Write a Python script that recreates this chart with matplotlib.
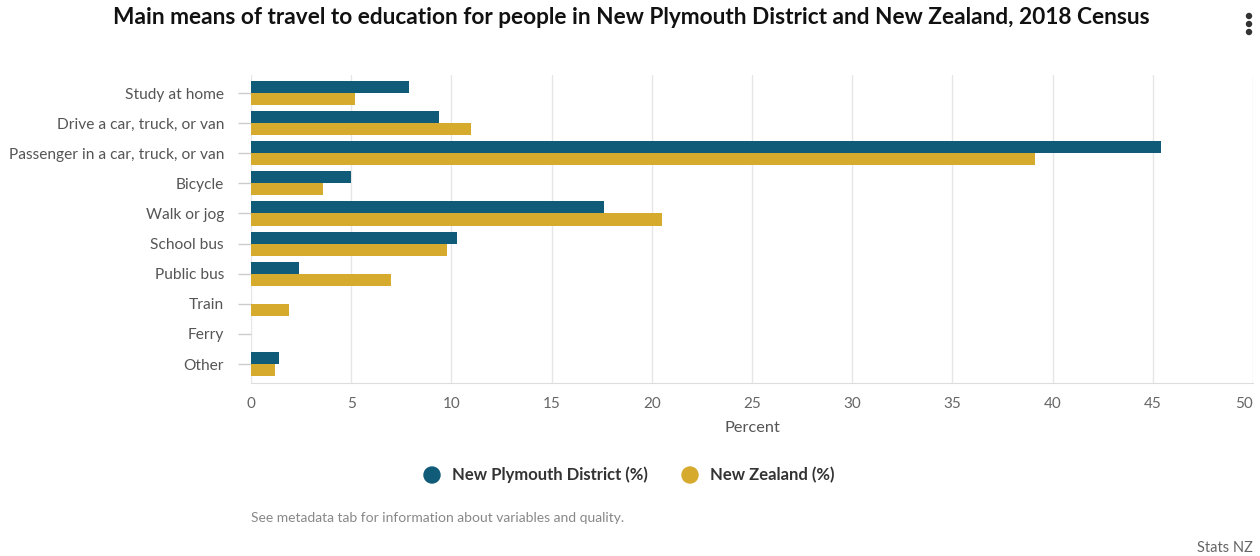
import matplotlib.pyplot as plt
from matplotlib.patches import Ellipse
import numpy as np

plt.rcParams['font.family'] = ['Lato', 'DejaVu Sans']

categories = ["Study at home", "Drive a car, truck, or van",
              "Passenger in a car, truck, or van", "Bicycle", "Walk or jog",
              "School bus", "Public bus", "Train", "Ferry", "Other"]
new_plymouth = [7.9, 9.4, 45.4, 5.0, 17.6, 10.3, 2.4, 0.0, 0.0, 1.4]
new_zealand = [5.2, 11.0, 39.1, 3.6, 20.5, 9.8, 7.0, 1.9, 0.0, 1.2]
x_ticks = list(range(0, 55, 5))

teal = "#0f5b78"
gold = "#d5aa2d"

W, H = 1260, 556
fig = plt.figure(figsize=(W / 100, H / 100), dpi=100)
ax = fig.add_axes([251 / W, 1 - 383 / H, (1253 - 251) / W, (383 - 75) / H])

y = np.arange(len(categories))
h = 0.4
ax.barh(y - h / 2, new_plymouth, height=h, color=teal, zorder=3)
ax.barh(y + h / 2, new_zealand, height=h, color=gold, zorder=3)

ax.set_xlim(0, 50)
ax.set_ylim(9.63, -0.6)
ax.set_xticks(x_ticks)
ax.set_xticklabels([str(t) for t in x_ticks], color="#666666", fontsize=11)
ax.get_xticklabels()[-1].set_ha('right')
ax.set_yticks(y)
ax.set_yticklabels(categories, color="#555555", fontsize=11.2)
ax.tick_params(axis='y', length=9.5, color="#cccccc", width=1, pad=10)
ax.tick_params(axis='x', length=0, pad=10)
ax.grid(axis='x', color="#e6e6e6", linewidth=1, zorder=0)
for side in ['top', 'left', 'right']:
    ax.spines[side].set_visible(False)
ax.spines['bottom'].set_color("#dddddd")
ax.set_xlabel("Percent", color="#555555", fontsize=11.8, labelpad=7)

fig.text(631 / W, 1 - 18 / H,
         "Main means of travel to education for people in New Plymouth District and New Zealand, 2018 Census",
         ha='center', va='center', fontsize=16.3, fontweight='bold', color="#111111")

# menu dots at top right
for yy in [16, 24, 32]:
    fig.add_artist(Ellipse((1249 / W, 1 - yy / H), 5 / W, 5 / H,
                           transform=fig.transFigure, color="#333333"))

# legend
for cx, tx, label, col in [(432, 452, "New Plymouth District (%)", teal),
                           (690, 710, "New Zealand (%)", gold)]:
    fig.add_artist(Ellipse((cx / W, 1 - 475 / H), 16 / W, 16 / H,
                           transform=fig.transFigure, color=col))
    fig.text(tx / W, 1 - 475 / H, label, ha='left', va='center',
             fontsize=12, fontweight='bold', color="#333333")

fig.text(251 / W, 1 - 518 / H, "See metadata tab for information about variables and quality.",
         ha='left', va='center', fontsize=10, color="#888888")
fig.text(1253 / W, 1 - 548 / H, "Stats NZ", ha='right', va='center', fontsize=10.5, color="#666666")

fig.savefig("out.png", dpi=100, facecolor="white")
